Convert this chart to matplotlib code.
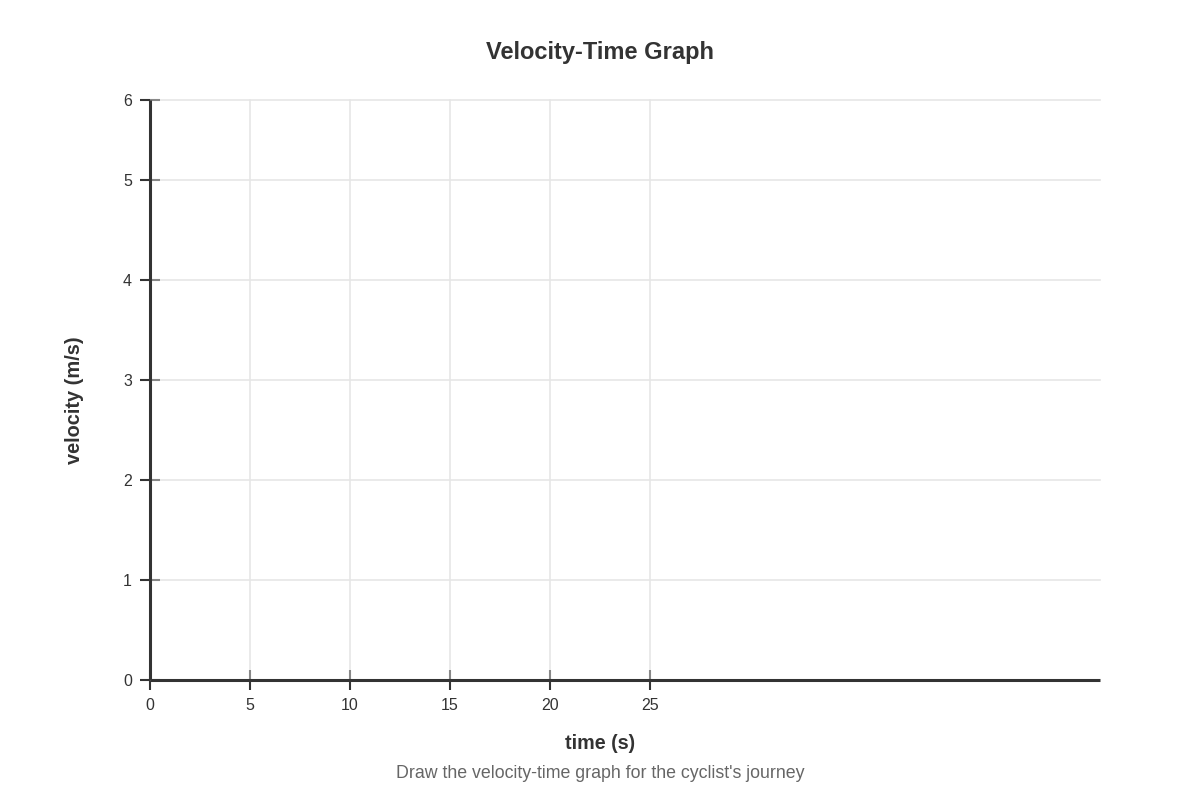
import numpy as np
import matplotlib.pyplot as plt

plt.rcParams['font.family'] = ['Liberation Sans', 'DejaVu Sans']

# axis setup (empty chart, no series yet)
x_ticks = [0, 5, 10, 15, 20, 25]
x_max = 47.5
y_ticks = [0, 1, 2, 3, 4, 5, 5.8]
y_labels = ['0', '1', '2', '3', '4', '5', '6']
y_max = 5.8

title = 'Velocity-Time Graph'
x_label = 'time (s)'
y_label = 'velocity (m/s)'
caption = "Draw the velocity-time graph for the cyclist's journey"

dark = '#333333'
grid_col = '#e6e6e6'

fig = plt.figure(figsize=(12, 8), dpi=100)
ax = fig.add_axes([0.125, 0.15, 0.79167, 0.725])

ax.set_xlim(0, x_max)
ax.set_ylim(0, y_max)

# gridlines
for xv in x_ticks[1:]:
    ax.axvline(xv, color=grid_col, lw=1.2, zorder=0, clip_on=False)
for yv in y_ticks[1:]:
    ax.axhline(yv, color=grid_col, lw=1.2, zorder=0, clip_on=False)

for s in ['top', 'right']:
    ax.spines[s].set_visible(False)
for s in ['left', 'bottom']:
    ax.spines[s].set_color(dark)
    ax.spines[s].set_linewidth(2.2)
    ax.spines[s].set_capstyle('butt')

ax.set_xticks(x_ticks)
ax.set_xticklabels([str(v) for v in x_ticks])
ax.set_yticks(y_ticks)
ax.set_yticklabels(y_labels)
ax.tick_params(axis='both', direction='out', length=7, width=1.5, color=dark,
               labelsize=11.5, labelcolor=dark, pad=6)

# inner gray tick halves
ax.xaxis.remove_overlapping_locs = False
ax.yaxis.remove_overlapping_locs = False
ax.set_xticks(x_ticks, minor=True)
ax.set_yticks(y_ticks, minor=True)
ax.tick_params(axis='both', which='minor', direction='in', length=7, width=1.5,
               color='#888888')

fig.text(0.5, 0.934, title, ha='center', va='center', fontsize=17,
         fontweight='bold', color=dark)
fig.text(0.5, 0.071, x_label, ha='center', va='center', fontsize=14.2,
         fontweight='bold', color=dark)
fig.text(0.0625, 0.5, y_label, ha='center', va='center', rotation=90,
         fontsize=14.4, fontweight='bold', color=dark)
fig.text(0.5, 0.0325, caption, ha='center', va='center', fontsize=12.8,
         color='#666666')

fig.savefig('out.png', dpi=100)
